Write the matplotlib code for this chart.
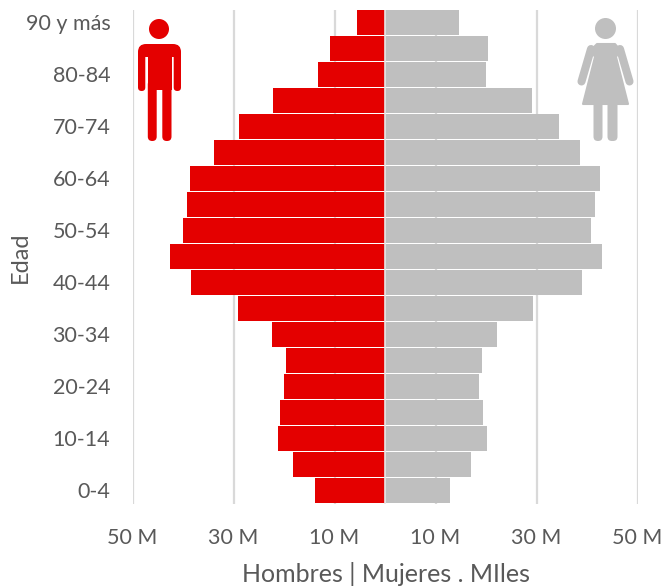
import matplotlib
matplotlib.use("Agg")
import matplotlib.pyplot as plt
from matplotlib.patches import Circle, FancyBboxPatch, Polygon, Rectangle

plt.rcParams['font.family'] = ['Lato', 'DejaVu Sans']

age_groups = ['0-4', '5-9', '10-14', '15-19', '20-24', '25-29', '30-34', '35-39', '40-44',
              '45-49', '50-54', '55-59', '60-64', '65-69', '70-74', '75-79', '80-84', '85-89', '90 y más']
hombres = [13.9, 18.2, 21.2, 20.8, 20.0, 19.6, 22.4, 29.1, 38.4, 42.6, 40.0, 39.2, 38.6, 33.9, 28.9, 22.2, 13.3, 10.9, 5.5]
mujeres = [12.9, 17.0, 20.2, 19.4, 18.6, 19.2, 22.2, 29.3, 39.0, 43.0, 40.8, 41.6, 42.6, 38.6, 34.5, 29.1, 20.0, 20.4, 14.7]
xticks = [-50, -30, -10, 10, 30, 50]
xticklabels = ['50 M', '30 M', '10 M', '10 M', '30 M', '50 M']
RED, GREY, TXT, GRID = '#E40000', '#BFBFBF', '#595959', '#D9D9D9'
W, H = 663, 586

fig = plt.figure(figsize=(W / 100, H / 100), dpi=100)
left, right, top, bottom = 132.5, 637.5, 9.5, 503.5
ax = fig.add_axes([left / W, 1 - bottom / H, (right - left) / W, (bottom - top) / H])
y = range(len(age_groups))
ax.set_axisbelow(True)
ax.xaxis.grid(True, color=GRID, lw=1.6)
ax.barh(y, [-v for v in hombres], height=0.95, color=RED)
ax.barh(y, mujeres, height=0.95, color=GREY)
ax.set_xlim(-50, 50)
ax.set_ylim(-0.5, len(age_groups) - 0.5)
ax.set_xticks(xticks, xticklabels)
ax.set_yticks(list(y)[::2], age_groups[::2])
ax.tick_params(length=0, labelsize=15.5, labelcolor=TXT)
ax.tick_params(axis='x', pad=18)
ax.tick_params(axis='y', pad=16)
for s in ax.spines.values():
    s.set_visible(False)
ax.axvline(0, color='#E8E8E8', lw=1.2, zorder=3)
fig.text(385.5 / W, 1 - 574 / H, 'Hombres | Mujeres . MIles', color=TXT, fontsize=18, ha='center', va='center')
fig.text(20 / W, 1 - 257 / H, 'Edad', color=TXT, fontsize=17, rotation=90, ha='center', va='center')

# Pictograms drawn in pixel coordinates
ov = fig.add_axes([0, 0, 1, 1], facecolor='none')
ov.set_xlim(0, W)
ov.set_ylim(H, 0)
ov.axis('off')

def rr(x0, y0, x1, y1, r, c):
    ov.add_patch(FancyBboxPatch((x0 + r, y0 + r), x1 - x0 - 2 * r, y1 - y0 - 2 * r,
                                boxstyle=f'round,pad={r},rounding_size={r}', fc=c, ec='none'))

# man
ov.add_patch(Circle((159, 29), 10, fc=RED, ec='none'))
rr(138, 44, 181, 70, 8, RED)
ov.add_patch(Rectangle((138, 52), 43, 5, fc=RED, ec='none'))
ov.add_patch(Rectangle((145.3, 57), 2.5, 14, fc='white', ec='none'))
ov.add_patch(Rectangle((171.5, 57), 2.5, 14, fc='white', ec='none'))
ov.add_patch(Rectangle((147.8, 57), 23.7, 33, fc=RED, ec='none'))
rr(138, 50, 145.3, 91, 3.6, RED)
rr(173.7, 50, 181, 91, 3.6, RED)
rr(147.8, 80, 156.7, 141, 4.4, RED)
rr(162.3, 80, 171.5, 141, 4.4, RED)

# woman
ov.add_patch(Circle((605.5, 28.5), 10.5, fc=GREY, ec='none'))
ov.add_patch(Polygon([(597, 44), (615, 44), (620, 50), (616, 57), (628, 104), (583, 104), (595, 57), (591, 50)],
                     closed=True, fc=GREY, ec=GREY, lw=1.5, joinstyle='round'))
ov.plot([591, 581.5], [49, 81.5], color=GREY, lw=5.8, solid_capstyle='round')
ov.plot([620, 629.5], [49, 81.5], color=GREY, lw=5.8, solid_capstyle='round')
rr(593.5, 100, 602.5, 141, 4.4, GREY)
rr(607.5, 100, 617.5, 141, 4.4, GREY)
ov.set_xlim(0, W)
ov.set_ylim(H, 0)

fig.savefig('out.png', dpi=100)
